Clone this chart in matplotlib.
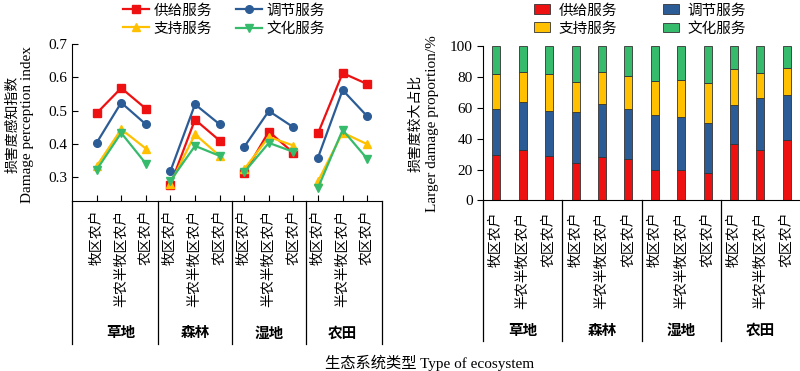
import matplotlib.pyplot as plt
import numpy as np

plt.rcParams['font.family'] = ['Liberation Serif', 'Noto Sans CJK SC']

# household types and ecosystem groups
hh = ['牧区农户', '半农半牧区农户', '农区农户'] * 4
groups = ['草地', '森林', '湿地', '农田']
services = ['供给服务', '调节服务', '支持服务', '文化服务']

# damage perception index (left)
supply = [0.492, 0.568, 0.506, 0.277, 0.473, 0.410, 0.311, 0.437, 0.373, 0.432, 0.613, 0.580]
regul = [0.403, 0.524, 0.459, 0.318, 0.519, 0.459, 0.391, 0.499, 0.450, 0.359, 0.562, 0.483]
support = [0.333, 0.444, 0.386, 0.280, 0.429, 0.364, 0.324, 0.421, 0.395, 0.288, 0.434, 0.399]
culture = [0.322, 0.433, 0.341, 0.289, 0.394, 0.364, 0.315, 0.403, 0.376, 0.268, 0.442, 0.355]

# larger damage proportion / % (right)
p_supply = [29.2, 32.4, 28.5, 24.4, 28.1, 26.6, 19.9, 19.9, 17.5, 36.7, 32.4, 39.3]
p_regul = [29.8, 31.5, 29.4, 32.8, 34.5, 32.8, 35.2, 33.7, 32.6, 24.9, 33.7, 28.5]
p_support = [22.4, 19.3, 23.5, 19.3, 20.1, 20.7, 22.0, 23.9, 25.5, 23.1, 16.2, 17.9]
p_culture = [18.6, 16.8, 18.6, 23.5, 17.3, 19.9, 22.9, 22.5, 24.4, 15.3, 17.7, 14.3]

colors = ['#EE1111', '#2C5C96', '#FFC000', '#36BB6C']
markers = ['s', 'o', '^', 'v']

fig = plt.figure(figsize=(8, 3.71), dpi=100)
ax1 = fig.add_axes([0.09, 0.458, 0.3875, 0.423])
ax2 = fig.add_axes([0.604, 0.4596, 0.396, 0.4174])

x = np.arange(1, 13)

# ---- left: line chart, one broken line per group
lines = [supply, regul, support, culture]
for vals, c, m, name in zip(lines, colors, markers, services):
    vals = np.array(vals)
    for g in range(4):
        idx = slice(g * 3, g * 3 + 3)
        ax1.plot(x[idx], vals[idx], color=c, marker=m, ms=5.5, lw=1.6,
                 label=name if g == 0 else None)

ax1.set_xlim(0, 12.6)
ax1.set_ylim(0.228, 0.7)
ax1.set_yticks([0.3, 0.4, 0.5, 0.6, 0.7])
ax1.set_yticklabels(['0.3', '0.4', '0.5', '0.6', '0.7'])
ax1.tick_params(axis='y', direction='in', length=4, labelsize=11)
ax1.set_xticks(x)
ax1.set_xticklabels(hh, rotation=90, fontsize=10)
ax1.tick_params(axis='x', direction='in', length=4, pad=6)
ax1.spines['top'].set_visible(False)
ax1.spines['right'].set_visible(False)

# ---- right: stacked bars
parts = [p_supply, p_regul, p_support, p_culture]
bottom = np.zeros(12)
for vals, c, name in zip(parts, colors, services):
    ax2.bar(x, vals, 0.3, bottom=bottom, color=c, edgecolor='#333333',
            linewidth=0.6, label=name)
    bottom += np.array(vals)

ax2.set_xlim(0.5, 12.5)
ax2.set_ylim(0, 100)
ax2.set_yticks([0, 20, 40, 60, 80, 100])
ax2.tick_params(axis='y', direction='out', length=4, labelsize=11)
ax2.set_xticks(x)
ax2.set_xticklabels(hh, rotation=90, fontsize=10)
ax2.tick_params(axis='x', length=0, pad=8)
ax2.spines['top'].set_visible(False)
ax2.spines['right'].set_visible(False)

# group separators and group names
for ax, seps in [(ax1, [0, 3.5, 6.5, 9.5, 12.6]), (ax2, [0.5, 3.5, 6.5, 9.5])]:
    tr = ax.get_xaxis_transform()
    for s in seps:
        ax.plot([s, s], [0, -0.91], color='black', lw=0.9, transform=tr, clip_on=False)
    for g, name in enumerate(groups):
        ax.text(g * 3 + 2, -0.845, name, transform=tr, ha='center', va='center',
                fontsize=10.5, fontweight='bold')

# axis titles
fig.text(0.015, 0.665, '损害度感知指数', rotation=90, ha='center', va='center', fontsize=10)
fig.text(0.035, 0.665, 'Damage perception index', rotation=90, ha='center', va='center', fontsize=11)
fig.text(0.519, 0.668, '损害度较大占比', rotation=90, ha='center', va='center', fontsize=10)
fig.text(0.541, 0.668, 'Larger damage proportion/%', rotation=90, ha='center', va='center', fontsize=11)
fig.text(0.537, 0.022, '生态系统类型 Type of ecosystem', ha='center', va='center', fontsize=11)

# legends: row-wise order (supply, regul / support, culture)
order = [0, 2, 1, 3]
h1, l1 = ax1.get_legend_handles_labels()
fig.legend([h1[i] for i in order], [l1[i] for i in order], loc='upper center',
           bbox_to_anchor=(0.28, 1.025), ncol=2, frameon=False, fontsize=10.5,
           handlelength=1.8, columnspacing=1.6, labelspacing=0.3, handletextpad=0.3)
h2, l2 = ax2.get_legend_handles_labels()
fig.legend([h2[i] for i in order], [l2[i] for i in order], loc='upper center',
           bbox_to_anchor=(0.80, 1.025), ncol=2, frameon=False, fontsize=10.5,
           handlelength=1.1, handleheight=0.65, columnspacing=3.1, labelspacing=0.3,
           handletextpad=0.6)

fig.savefig('out.png', dpi=100)
